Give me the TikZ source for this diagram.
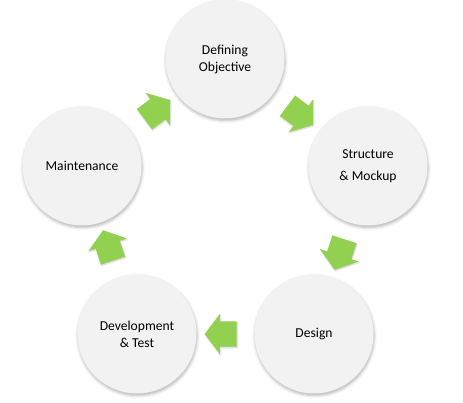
\documentclass[tikz,border=0pt]{standalone}
\usepackage{fontspec}
\setmainfont{Carlito}
\usepackage{tikz}
\usetikzlibrary{shapes.arrows,shadows.blur}
\definecolor{stagefill}{RGB}{242,242,242}
\definecolor{flowgreen}{RGB}{146,208,80}

\begin{document}
\begin{tikzpicture}[x=1pt, y=1pt,
        stage/.style={circle, fill=stagefill, minimum size=119pt, inner sep=0pt, align=center,
            font=\fontsize{13.6}{17}\selectfont,
            blur shadow={shadow xshift=0.6pt, shadow yshift=-2pt, shadow blur radius=3pt, shadow opacity=30}},
        flow/.style={single arrow, fill=flowgreen, minimum height=32pt, inner xsep=0pt, inner ysep=12.5pt,
            single arrow head extend=7.5pt, single arrow tip angle=106, sloped, allow upside down,
            blur shadow={shadow xshift=0.5pt, shadow yshift=-1pt, shadow blur radius=1.5pt, shadow opacity=20}}]
        \useasboundingbox (0,0) rectangle (463,403);

        % Stages
        \node[stage] (def) at (225,344) {Defining\\Objective};
        \node[stage] (str) at (368,237) {Structure\\[5pt]\& Mockup};
        \node[stage] (des) at (314,69) {Design};
        \node[stage] (dev) at (137,69) {Development\\\& Test};
        \node[stage] (mnt) at (82,237) {Maintenance};

        % Green arrows between stages
        \foreach \a/\b in {mnt/def,def/str,str/des,des/dev,dev/mnt}
            \path (\a) -- node[flow] {} (\b);
    \end{tikzpicture}
\end{document}
